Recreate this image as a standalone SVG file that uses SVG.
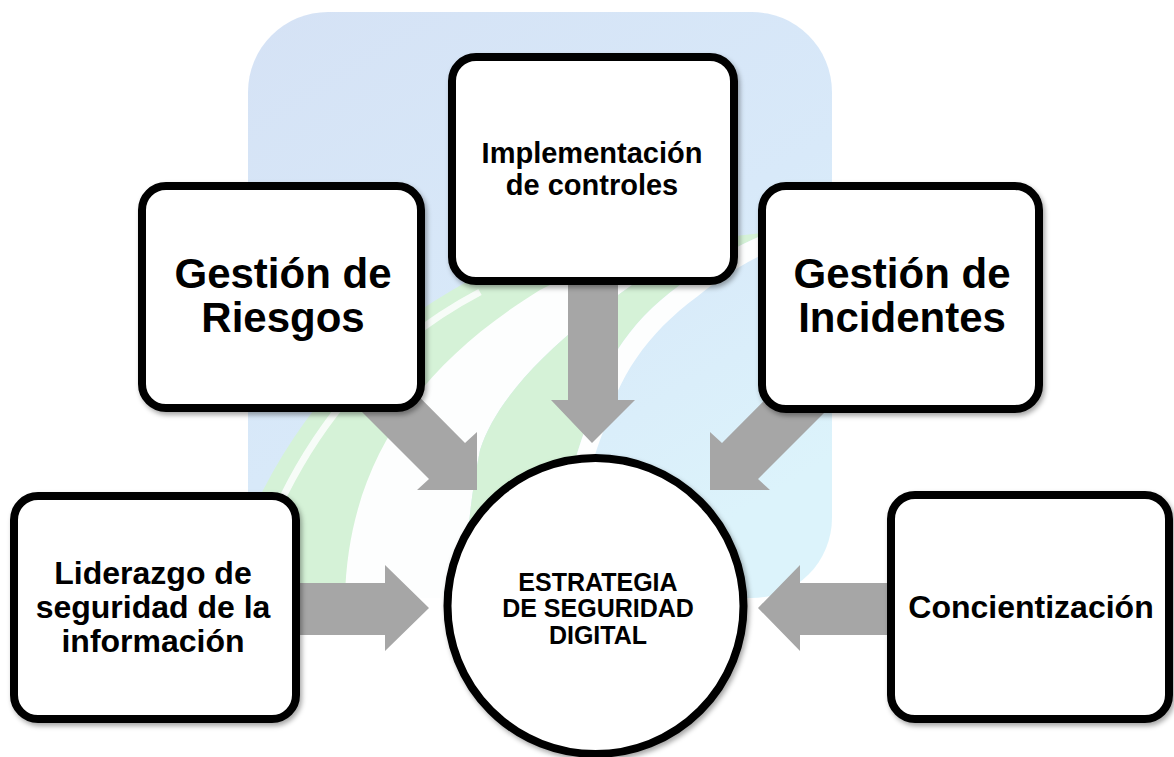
<svg xmlns="http://www.w3.org/2000/svg" width="1174" height="757" viewBox="0 0 1174 757">
<defs>
<linearGradient id="bg" x1="0" y1="0" x2="0.6" y2="1">
<stop offset="0" stop-color="#d5e2f5"/>
<stop offset="0.6" stop-color="#d8e9f9"/>
<stop offset="1" stop-color="#dcf3fb"/>
</linearGradient>
<clipPath id="wm">
<rect x="248" y="12" width="584" height="586" rx="80"/>
</clipPath>
<filter id="sh" x="-10%" y="-10%" width="125%" height="125%">
<feDropShadow dx="2" dy="3" stdDeviation="2.5" flood-color="#000" flood-opacity="0.35"/>
</filter>
<style>
.box{fill:#fff;stroke:#000;stroke-width:8;filter:url(#sh)}
.arr{fill:#a6a6a6}
.t{font-family:"Liberation Sans",Arial,Helvetica,sans-serif;font-weight:bold;fill:#000;text-anchor:middle}
.big{font-size:42px}
.mid{font-size:32px}
.sm{font-size:29px}
.cir{font-size:25px}
.g{fill:#d5f2d7}
.w{fill:#fdfefe}
</style>
</defs>
<rect width="1174" height="757" fill="#fff"/>
<g id="watermark">
<rect x="248" y="12" width="584" height="586" rx="80" fill="url(#bg)"/>
<g clip-path="url(#wm)">
<path class="g" d="M240 598 L240 540 C290 420 360 340 470 280 L540 250 L560 280 C420 360 350 470 345 598 Z"/>
<path d="M256 560 C300 440 370 350 480 292" fill="none" stroke="#fdfefe" stroke-width="7" opacity="0.85"/>
<path class="w" d="M345 598 C348 470 410 370 540 290 L640 240 L700 240 C620 290 505 370 480 450 C470 500 465 550 465 598 Z"/>
<path class="g" d="M465 598 C465 550 470 500 480 450 C505 370 620 290 700 240 L770 232 C740 244 715 258 680 285 C625 325 600 370 585 430 C570 470 560 520 550 598 Z"/>
<path class="w" d="M550 598 C560 520 570 470 585 430 C600 370 625 325 680 285 C715 258 740 244 770 232 L790 243 C760 254 730 270 698 296 C645 335 618 378 603 432 C588 470 578 520 570 598 Z"/>
</g>
</g>
<g id="connectors">
<polygon class="arr" points="298,583 385,583 385,565 429,608 385,651 385,635 298,635"/>
<polygon class="arr" points="890,583 800,583 800,565 758,608 800,651 800,635 890,635"/>
<polygon class="arr" points="568,280 618,280 618,400 635,400 592,443 551,400 568,400"/>
<polygon class="arr" points="345,322 465,443 477,432 477,490 417,490 429,479 309,359"/>
<polygon class="arr" points="842,322 722,443 710,432 710,490 770,490 758,479 878,359"/>
</g>
<g id="n-riesgos">
<rect class="box" x="142" y="186" width="279" height="222" rx="24"/>
<text class="t big" x="283" y="288">Gestión de</text>
<text class="t big" x="283" y="332">Riesgos</text>
</g>
<g id="n-controles">
<rect class="box" x="452" y="57" width="282" height="224" rx="24"/>
<text class="t sm" x="592" y="163">Implementación</text>
<text class="t sm" x="592" y="195">de controles</text>
</g>
<g id="n-incidentes">
<rect class="box" x="762" y="186" width="277" height="223" rx="24"/>
<text class="t big" x="902" y="288">Gestión de</text>
<text class="t big" x="902" y="332">Incidentes</text>
</g>
<g id="n-liderazgo">
<rect class="box" x="14" y="496" width="282" height="223" rx="24"/>
<text class="t mid" x="153" y="584">Liderazgo de</text>
<text class="t mid" x="153" y="618">seguridad de la</text>
<text class="t mid" x="153" y="652">información</text>
</g>
<g id="n-concientizacion">
<rect class="box" x="891" y="495" width="278" height="224" rx="24"/>
<text class="t mid" x="1031" y="618">Concientización</text>
</g>
<g id="n-estrategia">
<circle class="box" cx="595.5" cy="606" r="148"/>
<text class="t cir" x="598" y="590.5">ESTRATEGIA</text>
<text class="t cir" x="598" y="617">DE SEGURIDAD</text>
<text class="t cir" x="598" y="643.5">DIGITAL</text>
</g>
</svg>
